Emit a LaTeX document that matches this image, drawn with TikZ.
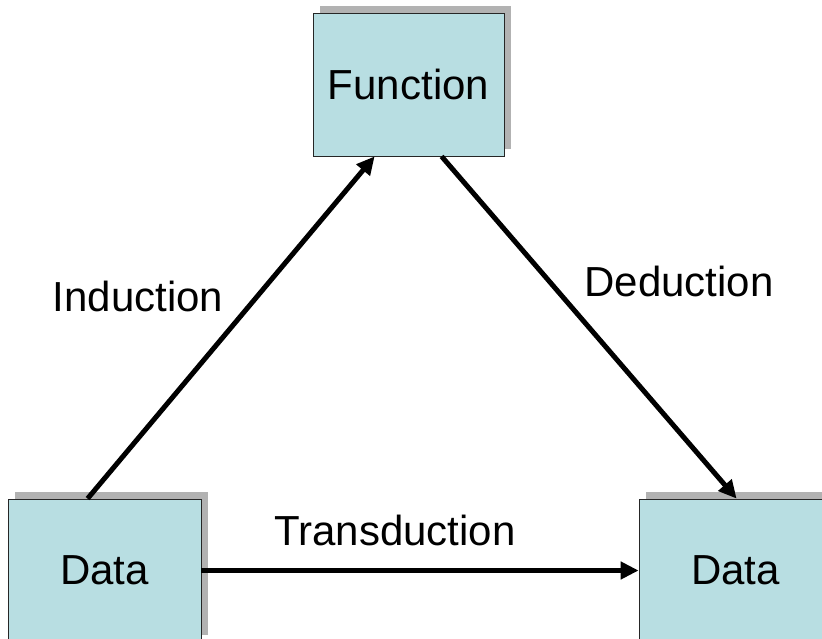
\documentclass[tikz,border=0pt]{standalone}
\usepackage{fontspec}
\setmainfont{Liberation Sans}
\usetikzlibrary{arrows.meta,shadows}
\definecolor{boxfill}{RGB}{184,222,226}
\definecolor{shadowgray}{RGB}{178,178,178}
\begin{document}
\begin{tikzpicture}[x=1pt,y=-1pt,
  conceptbox/.style={draw=black!85, line width=0.8pt, fill=boxfill,
    minimum width=191pt, minimum height=143pt, inner sep=0pt,
    font=\fontsize{42}{50}\selectfont,
    drop shadow={shadow xshift=7pt, shadow yshift=7pt, fill=shadowgray, opacity=1}},
  flow/.style={line width=5pt, -{Triangle[length=18pt,width=17pt]}},
  caption/.style={font=\fontsize{42}{50}\selectfont, inner sep=0pt}]
  \useasboundingbox (0,0) rectangle (822,639);
  \clip (0,0) rectangle (822,639);
  \fill[white] (0,0) rectangle (822,639);

  % concept boxes
  \node[conceptbox] (fn) at (408.5,84.5) {Function};
  \node[conceptbox, minimum width=193pt] (dl) at (104.5,570.5) {Data};
  \node[conceptbox, minimum width=193pt] (dr) at (735.5,570.5) {Data};

  % connectors
  \draw[flow] ([xshift=80pt]dl.north west) -- ([xshift=62pt]fn.south west);
  \draw[flow] ([xshift=129pt]fn.south west) -- ([xshift=98pt]dr.north west);
  \draw[flow] (dl.east) -- (dr.west);

  % connector labels
  \node[caption] (lind) at (138,296) {Induction};
  \node[caption] (lded) at (679,281) {Deduction};
  \node[caption] (ltra) at (395,530) {Transduction};
\end{tikzpicture}
\end{document}
